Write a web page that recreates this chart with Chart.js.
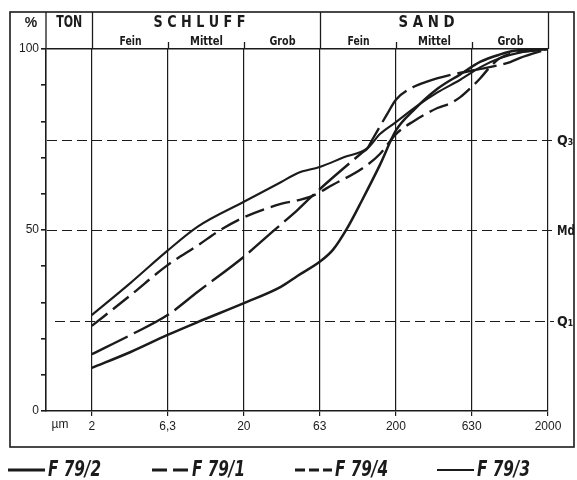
<!DOCTYPE html>
<html>
<head>
<meta charset="utf-8">
<script src="https://cdn.jsdelivr.net/npm/chart.js@4.4.0/dist/chart.umd.min.js"></script>
<style>
  html, body { margin: 0; padding: 0; background: #fff; }
  #wrap { position: relative; width: 577px; height: 480px; }
</style>
</head>
<body>
<div id="wrap"><canvas id="c" width="577" height="480"></canvas></div>
<script>
// Grain-size classes (µm) on the x axis and their labels
const sizeTicks = [2, 6.3, 20, 63, 200, 630, 2000];
const sizeTickLabels = ['2', '6,3', '20', '63', '200', '630', '2000'];

// Fraction headers
const mainClasses = ['TON', 'S C H L U F F', 'S A N D'];
const subClasses = ['Fein', 'Mittel', 'Grob', 'Fein', 'Mittel', 'Grob'];

// Quartile reference levels (%)
const quartileLevels = [25, 50, 75];
const quartileLabels = ['Q\u2081', 'Md', 'Q\u2083'];

// Cumulative grain-size curves: size (µm) and cumulative percent
const f792Size = [2, 3.6, 6.3, 10, 20, 35, 45, 63, 77, 95, 120, 157, 200, 260, 375, 530, 720, 970, 1200, 2000];
const f792Pct  = [11.9, 16.3, 21, 24.6, 29.8, 34.3, 37.3, 41.2, 44.5, 50.3, 58.3, 68, 77.5, 83, 89, 93, 96.5, 98.5, 99.5, 100];

const f791Size = [2, 3.6, 6.3, 10, 20, 26, 35, 45, 55, 77, 120, 130, 140, 175, 200, 260, 320, 475, 720, 1130, 1300, 2000];
const f791Pct  = [15.7, 21, 26.5, 33, 42.6, 46.8, 51.5, 55.5, 59, 64.5, 71.4, 72.6, 75, 82, 86, 89.5, 91, 93, 94.5, 96.4, 97.5, 100];

const f794Size = [2, 3.6, 6.3, 10, 14, 20, 35, 45, 55, 77, 120, 157, 200, 260, 375, 455, 530, 630, 720, 830, 970, 2000];
const f794Pct  = [23.5, 32, 40.3, 45.8, 50, 53.5, 57.2, 58.2, 59.2, 62.5, 67, 71, 76.5, 80, 83.7, 85, 86.7, 89.5, 92, 95, 97.5, 100];

const f793Size = [2, 3.6, 6.3, 10, 20, 35, 45, 63, 90, 130, 157, 200, 270, 375, 530, 720, 970, 1300, 2000];
const f793Pct  = [26.5, 35.4, 44.3, 51, 57.8, 63.2, 65.7, 67.4, 70, 72.6, 76.5, 79.8, 84, 88, 91.5, 95, 97.5, 99, 100];

const DARK = '#1b1b1b';
const NARROW = "'Liberation Sans Narrow', 'DejaVu Sans Condensed', 'Liberation Sans', sans-serif";
const REG = "'Liberation Sans', Arial, sans-serif";

const toPoints = (xs, ys) => xs.map((x, i) => ({ x, y: ys[i] }));

const lineBase = {
  borderColor: DARK,
  backgroundColor: DARK,
  pointRadius: 0,
  fill: false,
  cubicInterpolationMode: 'monotone',
  borderCapStyle: 'butt'
};

const datasets = [
  { ...lineBase, label: 'F 79/2', data: toPoints(f792Size, f792Pct), borderWidth: 2.5, borderDash: [], legendDash: [], legendWidth: 2.8 },
  { ...lineBase, label: 'F 79/1', data: toPoints(f791Size, f791Pct), borderWidth: 2.4, borderDash: [40, 7], legendDash: [15, 6], legendWidth: 2.8 },
  { ...lineBase, label: 'F 79/4', data: toPoints(f794Size, f794Pct), borderWidth: 2.4, borderDash: [20, 7], legendDash: [10, 4], legendWidth: 2.8 },
  { ...lineBase, label: 'F 79/3', data: toPoints(f793Size, f793Pct), borderWidth: 2.1, borderDash: [], legendDash: [], legendWidth: 2.0 }
];

// Frame, header, quartile lines and legend
const decor = {
  id: 'decor',
  beforeDatasetsDraw(chart) {
    const { ctx, chartArea: a, scales: { y } } = chart;
    ctx.save();
    ctx.strokeStyle = DARK;
    ctx.lineWidth = 1.2;
    ctx.setLineDash([10, 5]);
    quartileLevels.forEach((q, i) => {
      const py = Math.round(y.getPixelForValue(q)) + 0.5;
      ctx.beginPath();
      ctx.moveTo(a.left + (i === 0 ? 9 : 1), py);
      ctx.lineTo(a.right + 6, py);
      ctx.stroke();
    });
    ctx.restore();
  },
  afterDraw(chart) {
    const { ctx, chartArea: a, scales: { x, y } } = chart;
    const frame = { left: 10, top: 12, right: 574, bottom: 447 };
    ctx.save();
    ctx.strokeStyle = DARK;
    ctx.fillStyle = DARK;

    // outer frame
    ctx.lineWidth = 1.6;
    ctx.strokeRect(frame.left, frame.top, frame.right - frame.left, frame.bottom - frame.top);

    // header column lines
    const px = v => Math.round(x.getPixelForValue(v)) + 0.5;
    ctx.lineWidth = 1.3;
    [a.left, px(2), px(63), px(2000)].forEach(xx => {
      ctx.beginPath(); ctx.moveTo(xx, frame.top); ctx.lineTo(xx, a.top); ctx.stroke();
    });
    [6.3, 20, 200, 630].forEach(v => {
      const xx = px(v);
      ctx.beginPath(); ctx.moveTo(xx, a.top - 7); ctx.lineTo(xx, a.top); ctx.stroke();
    });

    // header texts
    ctx.textAlign = 'center';
    ctx.textBaseline = 'middle';
    ctx.font = 'bold 14px ' + REG;
    ctx.fillText('%', 31, 23);
    ctx.font = 'bold 16px ' + NARROW;
    ctx.fillText(mainClasses[0], (a.left + px(2)) / 2, 23, 26);
    ctx.font = 'bold 15px ' + NARROW;
    ctx.fillText(mainClasses[1], (px(2) + px(63)) / 2 - 7, 23, 92);
    ctx.fillText(mainClasses[2], (px(63) + px(2000)) / 2 - 8, 23, 56);
    ctx.font = 'bold 12px ' + NARROW;
    const bounds = sizeTicks;
    const subWidths = [22, 33, 26, 22, 33, 26];
    subClasses.forEach((s, i) => {
      const cx = (px(bounds[i]) + px(bounds[i + 1])) / 2;
      ctx.fillText(s, cx, 42, subWidths[i]);
    });

    // quartile labels
    ctx.textAlign = 'left';
    ctx.textBaseline = 'alphabetic';
    ctx.font = 'bold 14px ' + NARROW;
    quartileLevels.forEach((q, i) => {
      const py = y.getPixelForValue(q);
      ctx.fillText(quartileLabels[i], 557, py + 5, 18);
    });

    // unit label
    ctx.font = '12px ' + REG;
    ctx.textAlign = 'center';
    ctx.textBaseline = 'middle';
    ctx.fillText('\u00b5m', 60, 425);

    // legend
    const legendX = [8, 152, 295, 437];
    const legendY = 470;
    chart.data.datasets.forEach((ds, i) => {
      const x0 = legendX[i];
      ctx.lineWidth = ds.legendWidth;
      ctx.setLineDash(ds.legendDash);
      ctx.beginPath(); ctx.moveTo(x0, legendY); ctx.lineTo(x0 + 37, legendY); ctx.stroke();
      ctx.setLineDash([]);
      ctx.font = 'italic bold 21px ' + NARROW;
      ctx.textAlign = 'left';
      ctx.textBaseline = 'middle';
      ctx.fillText(ds.label, x0 + 40, legendY + 1, 53);
    });
    ctx.restore();
  }
};

new Chart(document.getElementById('c'), {
  type: 'line',
  data: { datasets },
  options: {
    responsive: false,
    animation: false,
    devicePixelRatio: 1,
    layout: { padding: { left: 0, top: 49, right: 29, bottom: 39 } },
    plugins: { legend: { display: false }, tooltip: { enabled: false } },
    scales: {
      x: {
        type: 'logarithmic',
        min: 1,
        max: 2000,
        afterBuildTicks: s => { s.ticks = sizeTicks.map(v => ({ value: v })); },
        afterFit: s => { s.height = 30; },
        ticks: {
          autoSkip: false,
          maxRotation: 0,
          padding: 3,
          color: DARK,
          font: { family: REG, size: 12 },
          callback: (v, i) => sizeTickLabels[i]
        },
        grid: { color: DARK, lineWidth: 1.2, drawTicks: true, tickLength: 5, tickColor: DARK },
        border: { display: true, color: DARK, width: 1.6 }
      },
      y: {
        min: 0,
        max: 100,
        afterFit: s => { s.width = 46; },
        ticks: {
          stepSize: 10,
          padding: 2,
          color: DARK,
          font: { family: REG, size: 12 },
          callback: v => (v % 50 === 0 ? String(v) : '')
        },
        grid: {
          color: c => (c.tick && c.tick.value === 100 ? DARK : 'rgba(0,0,0,0)'),
          lineWidth: 1.6,
          drawTicks: true,
          tickLength: 5,
          tickColor: DARK
        },
        border: { display: true, color: DARK, width: 1.6 }
      }
    }
  },
  plugins: [decor]
});
</script>
</body>
</html>
